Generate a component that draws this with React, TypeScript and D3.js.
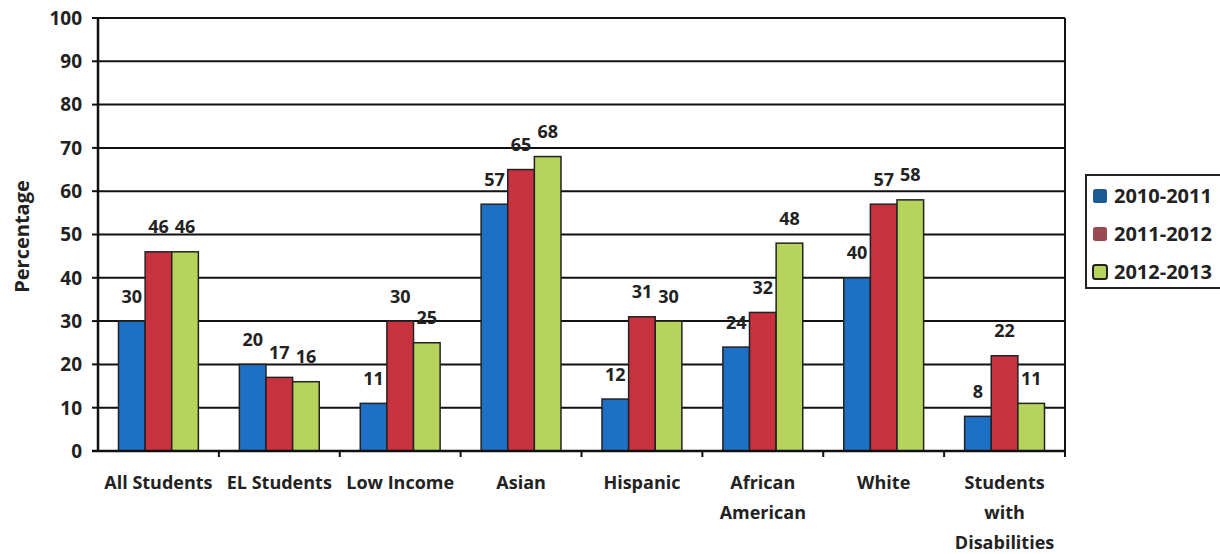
import React from "react";
import * as d3 from "d3";

const categories: string[][] = [
  ["All Students"],
  ["EL Students"],
  ["Low Income"],
  ["Asian"],
  ["Hispanic"],
  ["African", "American"],
  ["White"],
  ["Students", "with", "Disabilities"],
];
const seriesNames = ["2010-2011", "2011-2012", "2012-2013"];
const values2010 = [30, 20, 11, 57, 12, 24, 40, 8];
const values2011 = [46, 17, 30, 65, 31, 32, 57, 22];
const values2012 = [46, 16, 25, 68, 30, 48, 58, 11];
const yTicks = [0, 10, 20, 30, 40, 50, 60, 70, 80, 90, 100];

const barColors = ["#1e6fc6", "#c8323f", "#b6d35c"];
const legendColors = ["#1d5b94", "#9b4a52", "#b6d35c"];

const W = 1220;
const H = 554;
const left = 98;
const right = 1065;
const top = 18;
const bottom = 451;
const FONT = "'Open Sans', Lato, sans-serif";

export default function App() {
  const series = [values2010, values2011, values2012];
  const x0 = d3
    .scaleBand<number>()
    .domain(categories.map((_, i) => i))
    .range([left, right])
    .padding(0);
  const x1 = d3
    .scaleBand<number>()
    .domain([0, 1, 2])
    .range([0, x0.bandwidth()])
    .paddingInner(0)
    .paddingOuter(0.77);
  const y = d3.scaleLinear().domain([0, 100]).range([bottom, top]);

  return (
    <div style={{ position: "fixed", left: 0, top: 0 }}>
      <svg width={W} height={H} style={{ display: "block", background: "#fff" }}>
        {/* gridlines */}
        {yTicks.map((t) => (
          <line
            key={"g" + t}
            x1={left}
            x2={right}
            y1={y(t)}
            y2={y(t)}
            stroke="#111"
            strokeWidth={2}
          />
        ))}
        {/* y tick marks and labels */}
        {yTicks.map((t) => (
          <g key={"t" + t}>
            <line x1={left - 6} x2={left} y1={y(t)} y2={y(t)} stroke="#111" strokeWidth={2} />
            <text
              x={82}
              y={y(t)}
              dy="0.36em"
              textAnchor="end"
              fontFamily={FONT}
              fontWeight={700}
              fontSize={19}
              fill="#222"
            >
              {t}
            </text>
          </g>
        ))}
        {/* bars */}
        {categories.map((_, ci) =>
          series.map((vals, si) => {
            const v = vals[ci];
            const bx = (x0(ci) as number) + (x1(si) as number);
            return (
              <rect
                key={`b${ci}-${si}`}
                x={bx}
                y={y(v)}
                width={x1.bandwidth()}
                height={y(0) - y(v)}
                fill={barColors[si]}
                stroke="#222"
                strokeWidth={1.5}
              />
            );
          })
        )}
        {/* value labels */}
        {categories.map((_, ci) =>
          series.map((vals, si) => {
            const v = vals[ci];
            const cx = (x0(ci) as number) + (x1(si) as number) + x1.bandwidth() / 2;
            return (
              <text
                key={`l${ci}-${si}`}
                x={cx}
                y={y(v) - 25}
                dy="0.36em"
                textAnchor="middle"
                fontFamily={FONT}
                fontWeight={700}
                fontSize={18}
                fill="#222"
              >
                {v}
              </text>
            );
          })
        )}
        {/* axes and frame */}
        <line x1={left} x2={left} y1={top} y2={bottom} stroke="#111" strokeWidth={2.5} />
        <line x1={right} x2={right} y1={top} y2={bottom} stroke="#111" strokeWidth={2} />
        <line x1={left - 6} x2={right} y1={bottom} y2={bottom} stroke="#111" strokeWidth={2.5} />
        {categories.map((_, ci) => (
          <line
            key={"xt" + ci}
            x1={(x0(ci) as number) + x0.bandwidth()}
            x2={(x0(ci) as number) + x0.bandwidth()}
            y1={bottom}
            y2={bottom + 6}
            stroke="#111"
            strokeWidth={2}
          />
        ))}
        {/* category labels */}
        {categories.map((lines, ci) => (
          <text
            key={"c" + ci}
            x={(x0(ci) as number) + x0.bandwidth() / 2}
            y={483}
            textAnchor="middle"
            fontFamily={FONT}
            fontWeight={700}
            fontSize={18}
            fill="#222"
          >
            {lines.map((ln, li) => (
              <tspan key={li} x={(x0(ci) as number) + x0.bandwidth() / 2} y={483 + li * 30} dy="0.36em">
                {ln}
              </tspan>
            ))}
          </text>
        ))}
        {/* y axis title */}
        <text
          transform={`translate(22,${(top + bottom) / 2 + 2}) rotate(-90)`}
          textAnchor="middle"
          dy="0.36em"
          fontFamily={FONT}
          fontWeight={700}
          fontSize={20}
          fill="#222"
        >
          Percentage
        </text>
        {/* legend */}
        <rect x={1086} y={175} width={150} height={113} fill="#fff" stroke="#222" strokeWidth={2} />
        {seriesNames.map((name, i) => (
          <g key={"lg" + i} transform={`translate(1093,${196 + i * 38})`}>
            <rect
              x={0}
              y={-7}
              width={14}
              height={14}
              rx={2.5}
              fill={legendColors[i]}
              stroke={i === 2 ? "#222" : "none"}
              strokeWidth={2}
            />
            <text
              x={21}
              y={0}
              dy="0.36em"
              fontFamily={FONT}
              fontWeight={700}
              fontSize={20}
              fill="#222"
            >
              {name}
            </text>
          </g>
        ))}
      </svg>
    </div>
  );
}
